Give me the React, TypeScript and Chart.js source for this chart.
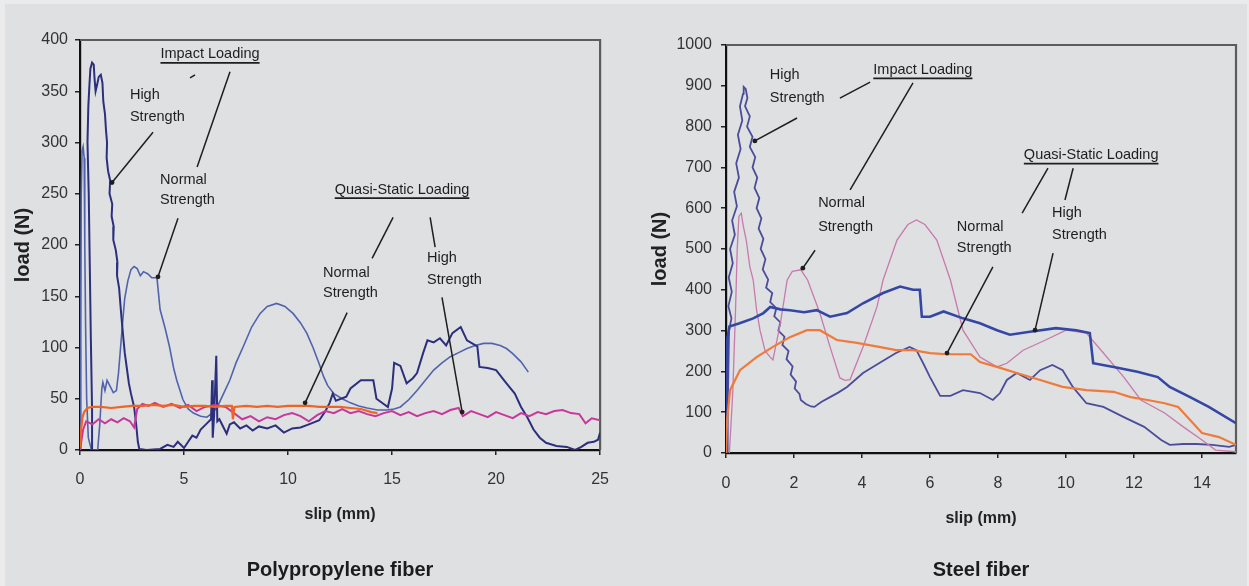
import { useEffect, useRef } from "react";
import { Chart, registerables } from "chart.js";

Chart.register(...registerables);

type Pt = [number, number];

// ---------- Polypropylene fiber: [slip (mm), load (N)] ----------
const ppImpactHigh: Pt[] = [
  [0.62, 0], [0.58, 40], [0.52, 110], [0.47, 180], [0.42, 250], [0.36, 300], [0.4, 335], [0.45, 355],
  [0.5, 372], [0.58, 378], [0.66, 376], [0.7, 362], [0.75, 350], [0.82, 356], [0.9, 364], [1.0, 366],
  [1.08, 358], [1.12, 340], [1.2, 328], [1.25, 312], [1.3, 300], [1.28, 285], [1.35, 272], [1.45, 263],
  [1.42, 250], [1.55, 240], [1.52, 228], [1.62, 218], [1.6, 205], [1.72, 195], [1.8, 183], [1.78, 170],
  [1.88, 158], [1.95, 140], [2.0, 128], [2.08, 110], [2.15, 95], [2.25, 80], [2.35, 65], [2.45, 55],
  [2.6, 42], [2.7, 25], [2.78, 8], [2.85, 1], [3.2, 0], [3.85, 1], [4.2, 5], [4.5, 3], [4.7, 8], [5.0, 2],
  [5.2, 8], [5.4, 14], [5.6, 12], [5.8, 20], [6.1, 26], [6.3, 30], [6.35, 68], [6.38, 12], [6.45, 35],
  [6.55, 92], [6.6, 28], [6.7, 30], [6.9, 22], [7.05, 16], [7.2, 25], [7.4, 27], [7.7, 21], [8.0, 24],
  [8.3, 19], [8.6, 23], [9.0, 21], [9.4, 24], [9.8, 17], [10.2, 21], [10.6, 22], [11.0, 25], [11.5, 29],
  [11.8, 38], [12.0, 46], [12.15, 55], [12.3, 48], [12.8, 52], [13.0, 60], [13.5, 68], [14.1, 68],
  [14.25, 50], [14.8, 42], [15.0, 60], [15.1, 85], [15.4, 82], [15.7, 65], [16.0, 70], [16.2, 75],
  [16.5, 95], [16.7, 107], [17.0, 105], [17.3, 109], [17.6, 102], [17.9, 114], [18.3, 120], [18.6, 107],
  [19.1, 101], [19.2, 81], [19.6, 80], [20.0, 78], [20.5, 65], [20.9, 55], [21.2, 42], [21.5, 32],
  [21.8, 20], [22.1, 12], [22.4, 7], [22.9, 4], [23.4, 3], [23.8, 0], [24.1, 3], [24.4, 7], [24.7, 8],
  [24.9, 10], [25, 17],
];

const ppImpactNormal: Pt[] = [
  [0, 0], [0.03, 120], [0.06, 250], [0.1, 292], [0.15, 296], [0.2, 285], [0.23, 200], [0.27, 120],
  [0.32, 50], [0.4, 12], [0.55, 0], [0.85, 0], [0.95, 25], [1.05, 60], [1.1, 66], [1.2, 58], [1.3, 68],
  [1.45, 62], [1.6, 56], [1.75, 58], [1.85, 75], [1.95, 100], [2.05, 125], [2.15, 148], [2.3, 165],
  [2.45, 176], [2.6, 179], [2.75, 177], [2.9, 170], [3.05, 174], [3.25, 172], [3.45, 168], [3.7, 168],
  [3.85, 137], [4.1, 118], [4.3, 101], [4.5, 80], [4.65, 68], [4.95, 49], [5.2, 40], [5.45, 36],
  [5.8, 33], [6.1, 32], [6.35, 36], [6.6, 42], [6.9, 55], [7.2, 68], [7.5, 85], [7.85, 101], [8.25, 120],
  [8.65, 133], [9.0, 140], [9.45, 143], [9.85, 140], [10.25, 133], [10.6, 124], [10.9, 114], [11.2, 100],
  [11.5, 84], [11.7, 72], [11.9, 63], [12.2, 55], [12.6, 50], [13.0, 46], [13.4, 43], [13.8, 41],
  [14.3, 39], [14.75, 39], [15.1, 40], [15.4, 42], [15.8, 49], [16.2, 58], [16.6, 68], [17.0, 78],
  [17.4, 85], [17.8, 91], [18.2, 95], [18.6, 99], [19.0, 102], [19.4, 104], [19.8, 104], [20.2, 102],
  [20.5, 99], [20.8, 94], [21.2, 86], [21.55, 76],
];

const ppQuasiNormal: Pt[] = [
  [0, 3], [0.05, 20], [0.12, 32], [0.2, 37], [0.35, 41], [0.6, 42], [1.0, 42], [1.5, 41], [2.0, 42],
  [2.5, 43], [3.0, 43], [3.5, 44], [4.0, 43], [4.5, 44], [5.0, 42], [5.5, 43], [6.0, 43], [6.5, 42],
  [7.0, 43], [7.3, 43], [7.35, 30], [7.42, 42], [8.0, 43], [8.5, 42], [9.0, 43], [9.5, 42], [10.0, 43],
  [10.5, 43], [11.0, 43], [11.5, 42], [12.0, 42], [12.5, 42], [13.0, 41], [13.5, 40], [14.0, 37], [14.3, 36],
];

const ppQuasiHigh: Pt[] = [
  [0, 0], [0.15, 20], [0.3, 28], [0.6, 25], [0.9, 30], [1.2, 26], [1.5, 30], [1.8, 27], [2.1, 31],
  [2.4, 28], [2.6, 22], [2.75, 40], [3.0, 45], [3.3, 43], [3.6, 46], [4.0, 42], [4.4, 45], [4.8, 41],
  [5.2, 44], [5.6, 38], [6.0, 42], [6.5, 44], [7.0, 42], [7.4, 36], [7.8, 30], [8.2, 33], [8.6, 28],
  [9.0, 32], [9.4, 30], [9.8, 34], [10.2, 36], [10.6, 33], [11.0, 28], [11.4, 34], [11.8, 38], [12.2, 36],
  [12.6, 40], [13.0, 36], [13.4, 38], [13.8, 35], [14.2, 33], [14.6, 36], [15.0, 38], [15.4, 34],
  [15.8, 37], [16.2, 33], [16.6, 36], [17.0, 38], [17.4, 35], [17.8, 39], [18.2, 41], [18.4, 33],
  [18.8, 38], [19.2, 35], [19.6, 32], [20.0, 37], [20.4, 34], [20.8, 31], [21.2, 36], [21.6, 33],
  [22.0, 37], [22.4, 35], [22.8, 38], [23.2, 39], [23.6, 36], [24.0, 35], [24.3, 26], [24.6, 31], [25, 29],
];

// ---------- Steel fiber: [slip (mm), load (N)] ----------
const stImpactHigh: Pt[] = [
  [0.03, 0], [0.05, 100], [0.07, 200], [0.09, 300], [0.16, 330], [0.07, 360], [0.17, 395], [0.08, 430],
  [0.2, 465], [0.12, 500], [0.26, 535], [0.18, 570], [0.32, 605], [0.24, 640], [0.38, 675], [0.3, 710],
  [0.43, 745], [0.35, 780], [0.48, 815], [0.41, 850], [0.5, 880], [0.52, 897], [0.58, 892], [0.63, 870],
  [0.56, 850], [0.7, 825], [0.62, 800], [0.78, 775], [0.7, 750], [0.86, 725], [0.78, 700], [0.92, 675],
  [0.84, 650], [0.98, 625], [0.9, 600], [1.04, 575], [0.96, 550], [1.1, 525], [1.02, 500], [1.16, 475],
  [1.08, 450], [1.24, 425], [1.18, 405], [1.36, 392], [1.3, 370], [1.48, 355], [1.42, 335], [1.6, 320],
  [1.54, 300], [1.72, 285], [1.66, 265], [1.84, 250], [1.78, 230], [1.96, 212], [1.9, 192], [2.06, 175],
  [2.02, 158], [2.16, 145], [2.2, 130], [2.35, 120], [2.5, 114], [2.6, 113], [2.8, 125], [3.06, 137],
  [3.3, 148], [3.56, 162], [4.03, 196], [4.5, 220], [5.0, 245], [5.4, 260], [5.6, 252], [5.8, 220],
  [6.0, 186], [6.3, 140], [6.6, 140], [6.97, 154], [7.47, 147], [7.85, 130], [8.06, 147], [8.26, 179],
  [8.55, 196], [8.94, 179], [9.24, 203], [9.6, 216], [9.9, 203], [10.2, 162], [10.6, 122], [11.1, 113],
  [11.7, 88], [12.3, 64], [12.8, 32], [13.05, 20], [13.45, 22], [13.85, 22], [14.3, 20], [14.8, 15], [15, 20],
];

const stImpactNormal: Pt[] = [
  [0.1, 0], [0.2, 150], [0.28, 350], [0.33, 500], [0.38, 580], [0.45, 588], [0.5, 560], [0.6, 520],
  [0.7, 457], [0.8, 424], [0.9, 350], [1.0, 301], [1.15, 250], [1.3, 235], [1.38, 228], [1.6, 318],
  [1.8, 424], [1.95, 445], [2.2, 449], [2.4, 424], [2.76, 343], [3.06, 260], [3.35, 184], [3.5, 178],
  [3.65, 180], [4.03, 260], [4.44, 358], [4.62, 424], [5.03, 522], [5.35, 560], [5.6, 571], [5.85, 560],
  [6.2, 522], [6.6, 424], [6.97, 301], [7.47, 235], [7.97, 211], [8.26, 220], [8.74, 252], [9.4, 277],
  [10.0, 301], [10.6, 294], [11.1, 245], [11.7, 186], [12.2, 130], [12.9, 98], [13.45, 64], [14.0, 32],
  [14.4, 7], [15, 3],
];

const stQuasiHigh: Pt[] = [
  [0, 0], [0.02, 150], [0.04, 280], [0.1, 310], [0.4, 318], [0.8, 330], [1.1, 343], [1.3, 358],
  [1.6, 352], [1.88, 350], [2.3, 345], [2.67, 350], [3.06, 334], [3.56, 343], [4.03, 367], [4.62, 392],
  [5.12, 408], [5.5, 400], [5.7, 400], [5.76, 334], [6.0, 334], [6.4, 347], [6.97, 330], [7.47, 318],
  [7.97, 301], [8.35, 290], [8.94, 297], [9.7, 306], [10.3, 301], [10.7, 294], [10.8, 220], [11.4, 211],
  [12.1, 199], [12.7, 186], [13.05, 162], [13.65, 137], [14.2, 113], [15, 73],
];

const stQuasiNormal: Pt[] = [
  [0, 0], [0.03, 80], [0.12, 154], [0.41, 203], [0.9, 235], [1.38, 260], [1.88, 284], [2.38, 301],
  [2.76, 301], [3.26, 277], [3.85, 270], [4.5, 260], [5.0, 252], [5.5, 252], [6.0, 245], [6.5, 242],
  [7.2, 242], [7.47, 223], [7.97, 211], [8.55, 196], [9.24, 179], [9.9, 162], [10.6, 154], [11.4, 150],
  [11.9, 137], [12.4, 130], [12.9, 122], [13.3, 113], [13.65, 81], [14.0, 49], [14.5, 39], [15, 20],
];

// ---------- Axis ticks ----------
const ppSlipTicks = [0, 5, 10, 15, 20, 25];
const ppLoadTicks = [0, 50, 100, 150, 200, 250, 300, 350, 400];
const stSlipTicks = [0, 2, 4, 6, 8, 10, 12, 14];
const stLoadTicks = [0, 100, 200, 300, 400, 500, 600, 700, 800, 900, 1000];

// ---------- Callouts (placed in data units) ----------
type Note =
  | { kind: "text"; x: number; y: number; text: string; align?: CanvasTextAlign; underline?: boolean }
  | { kind: "line"; x1: number; y1: number; x2: number; y2: number; dot?: boolean };

const ppNotes: Note[] = [
  { kind: "text", x: 6.25, y: 386, text: "Impact Loading", align: "center", underline: true },
  { kind: "line", x1: 5.29, y1: 363, x2: 5.53, y2: 366 },
  { kind: "line", x1: 7.21, y1: 369, x2: 5.63, y2: 276 },
  { kind: "text", x: 2.4, y: 346, text: "High" },
  { kind: "text", x: 2.4, y: 325, text: "Strength" },
  { kind: "line", x1: 3.51, y1: 310, x2: 1.54, y2: 261, dot: true },
  { kind: "text", x: 3.85, y: 263, text: "Normal" },
  { kind: "text", x: 3.85, y: 244, text: "Strength" },
  { kind: "line", x1: 4.71, y1: 226, x2: 3.75, y2: 169, dot: true },
  { kind: "text", x: 15.48, y: 254, text: "Quasi-Static Loading", align: "center", underline: true },
  { kind: "line", x1: 15.05, y1: 227, x2: 14.04, y2: 187 },
  { kind: "line", x1: 16.83, y1: 227, x2: 17.07, y2: 198 },
  { kind: "text", x: 11.68, y: 173, text: "Normal" },
  { kind: "text", x: 11.68, y: 153, text: "Strength" },
  { kind: "text", x: 16.68, y: 187, text: "High" },
  { kind: "text", x: 16.68, y: 166, text: "Strength" },
  { kind: "line", x1: 12.84, y1: 134, x2: 10.82, y2: 46, dot: true },
  { kind: "line", x1: 17.4, y1: 149, x2: 18.37, y2: 37, dot: true },
];

const stNotes: Note[] = [
  { kind: "text", x: 1.29, y: 926, text: "High" },
  { kind: "text", x: 1.29, y: 870, text: "Strength" },
  { kind: "line", x1: 2.09, y1: 821, x2: 0.85, y2: 765, dot: true },
  { kind: "text", x: 5.79, y: 939, text: "Impact Loading", align: "center", underline: true },
  { kind: "line", x1: 4.24, y1: 909, x2: 3.35, y2: 870 },
  { kind: "line", x1: 5.5, y1: 907, x2: 3.65, y2: 645 },
  { kind: "text", x: 2.71, y: 613, text: "Normal" },
  { kind: "text", x: 2.71, y: 554, text: "Strength" },
  { kind: "line", x1: 2.62, y1: 497, x2: 2.26, y2: 453, dot: true },
  { kind: "text", x: 10.74, y: 730, text: "Quasi-Static Loading", align: "center", underline: true },
  { kind: "line", x1: 9.47, y1: 698, x2: 8.71, y2: 588 },
  { kind: "line", x1: 10.21, y1: 698, x2: 9.97, y2: 620 },
  { kind: "text", x: 6.79, y: 554, text: "Normal" },
  { kind: "text", x: 6.79, y: 502, text: "Strength" },
  { kind: "text", x: 9.59, y: 588, text: "High" },
  { kind: "text", x: 9.59, y: 534, text: "Strength" },
  { kind: "line", x1: 7.85, y1: 456, x2: 6.5, y2: 245, dot: true },
  { kind: "line", x1: 9.62, y1: 490, x2: 9.09, y2: 301, dot: true },
];

const FONT = '"Liberation Sans", Arial, Helvetica, sans-serif';
Chart.defaults.font.family = FONT;

function notesPlugin(notes: Note[]) {
  return {
    id: "notes",
    afterDatasetsDraw(chart: any) {
      const { ctx } = chart;
      const xs = chart.scales.x;
      const ys = chart.scales.y;
      ctx.save();
      ctx.fillStyle = "#1e1e1e";
      ctx.strokeStyle = "#1e1e1e";
      ctx.font = `14.5px ${FONT}`;
      ctx.textBaseline = "middle";
      for (const n of notes) {
        if (n.kind === "text") {
          const px = xs.getPixelForValue(n.x);
          const py = ys.getPixelForValue(n.y);
          const align = n.align ?? "left";
          ctx.textAlign = align;
          ctx.fillText(n.text, px, py);
          if (n.underline) {
            const w = ctx.measureText(n.text).width;
            const x0 = align === "center" ? px - w / 2 : px;
            ctx.lineWidth = 1.6;
            ctx.beginPath();
            ctx.moveTo(x0, py + 8.5);
            ctx.lineTo(x0 + w, py + 8.5);
            ctx.stroke();
          }
        } else {
          const ax = xs.getPixelForValue(n.x1);
          const ay = ys.getPixelForValue(n.y1);
          const bx = xs.getPixelForValue(n.x2);
          const by = ys.getPixelForValue(n.y2);
          ctx.lineWidth = 1.5;
          ctx.beginPath();
          ctx.moveTo(ax, ay);
          ctx.lineTo(bx, by);
          ctx.stroke();
          if (n.dot) {
            ctx.beginPath();
            ctx.arc(bx, by, 2.4, 0, Math.PI * 2);
            ctx.fill();
          }
        }
      }
      ctx.restore();
    },
  };
}

// Top and right edges of the plot box
const framePlugin = {
  id: "frame",
  beforeDatasetsDraw(chart: any) {
    const { ctx, chartArea: a } = chart;
    ctx.save();
    ctx.strokeStyle = "#5c5c5c";
    ctx.lineWidth = 2.2;
    ctx.beginPath();
    ctx.moveTo(a.left, a.top);
    ctx.lineTo(a.right, a.top);
    ctx.lineTo(a.right, a.bottom);
    ctx.stroke();
    ctx.restore();
  },
};

type Series = { data: Pt[]; color: string; width: number };

type PanelSpec = {
  series: Series[];
  xMax: number;
  yMax: number;
  xTicks: number[];
  yTicks: number[];
  title: string;
  notes: Note[];
  padTop: number;
  padRight: number;
  yWidth: number;
  xHeight: number;
  yTitlePad: number;
  xTitlePad: number;
  yTickPad: number;
  xTickPad: number;
};

function makeChart(canvas: HTMLCanvasElement, s: PanelSpec) {
  return new Chart(canvas, {
    type: "scatter",
    data: {
      datasets: s.series.map((d) => ({
        data: d.data.map(([x, y]) => ({ x, y })),
        showLine: true,
        borderColor: d.color,
        borderWidth: d.width,
        pointRadius: 0,
        tension: 0,
        fill: false,
      })),
    },
    options: {
      responsive: false,
      animation: false,
      devicePixelRatio: 1,
      layout: { padding: { left: 0, right: s.padRight, top: s.padTop, bottom: 0 } },
      plugins: {
        legend: { display: false },
        tooltip: { enabled: false },
        title: {
          display: true,
          text: s.title,
          position: "bottom",
          fullSize: false,
          color: "#1c1c1c",
          font: { size: 20, weight: "bold", family: FONT },
          padding: { top: 4, bottom: 4 },
        },
      },
      scales: {
        x: {
          type: "linear",
          min: 0,
          max: s.xMax,
          afterBuildTicks: (sc: any) => {
            sc.ticks = s.xTicks.map((v) => ({ value: v }));
          },
          afterFit: (sc: any) => {
            sc.height = s.xHeight;
          },
          ticks: {
            color: "#333",
            font: { size: 16 },
            padding: s.xTickPad,
            maxRotation: 0,
            callback: (v: any) => String(v),
          },
          grid: { drawOnChartArea: false, drawTicks: true, tickLength: 5, color: "#222", lineWidth: 1.5 },
          border: { color: "#111", width: 2.2 },
          title: {
            display: true,
            text: "slip (mm)",
            color: "#222",
            font: { size: 16, weight: "bold", family: FONT },
            padding: { top: 0, bottom: s.xTitlePad },
          },
        },
        y: {
          type: "linear",
          min: 0,
          max: s.yMax,
          afterBuildTicks: (sc: any) => {
            sc.ticks = s.yTicks.map((v) => ({ value: v }));
          },
          afterFit: (sc: any) => {
            sc.width = s.yWidth;
          },
          ticks: { color: "#333", font: { size: 16 }, padding: s.yTickPad, callback: (v: any) => String(v) },
          grid: { drawOnChartArea: false, drawTicks: true, tickLength: 5, color: "#222", lineWidth: 1.5 },
          border: { color: "#111", width: 2.2 },
          title: {
            display: true,
            text: "load (N)",
            color: "#222",
            font: { size: 20, weight: "bold", family: FONT },
            padding: { top: s.yTitlePad, bottom: 0 },
          },
        },
      },
    },
    plugins: [framePlugin, notesPlugin(s.notes)],
  } as any);
}

export default function App() {
  const leftRef = useRef<HTMLCanvasElement>(null);
  const rightRef = useRef<HTMLCanvasElement>(null);

  useEffect(() => {
    const left = makeChart(leftRef.current!, {
      series: [
        { data: ppQuasiNormal, color: "#f06423", width: 2.2 },
        { data: ppQuasiHigh, color: "#c8389a", width: 2 },
        { data: ppImpactHigh, color: "#2c2f7c", width: 2 },
        { data: ppImpactNormal, color: "#5263ad", width: 1.6 },
      ],
      xMax: 25,
      yMax: 400,
      xTicks: ppSlipTicks,
      yTicks: ppLoadTicks,
      title: "Polypropylene fiber",
      notes: ppNotes,
      padTop: 40,
      padRight: 0,
      yWidth: 80,
      xHeight: 104,
      yTitlePad: 11,
      xTitlePad: 30,
      yTickPad: 7,
      xTickPad: 15,
    });
    const right = makeChart(rightRef.current!, {
      series: [
        { data: stQuasiNormal, color: "#ef7a3a", width: 2.2 },
        { data: stQuasiHigh, color: "#3447a5", width: 2.6 },
        { data: stImpactNormal, color: "#c77aad", width: 1.3 },
        { data: stImpactHigh, color: "#4b4d98", width: 1.8 },
      ],
      xMax: 15,
      yMax: 1000,
      xTicks: stSlipTicks,
      yTicks: stLoadTicks,
      title: "Steel fiber",
      notes: stNotes,
      padTop: 45,
      padRight: 13,
      yWidth: 106,
      xHeight: 101,
      yTitlePad: 28,
      xTitlePad: 26,
      yTickPad: 9,
      xTickPad: 16,
    });
    return () => {
      left.destroy();
      right.destroy();
    };
  }, []);

  return (
    <div
      style={{
        position: "fixed",
        left: 0,
        top: 0,
        width: 1249,
        height: 586,
        background: "#ebebeb",
        overflow: "hidden",
      }}
    >
      <div
        style={{
          position: "absolute",
          left: 5,
          top: 4,
          width: 1242,
          height: 582,
          background: "#dfe0e2",
        }}
      />
      <canvas ref={leftRef} width={624} height={586} style={{ position: "absolute", left: 0, top: 0 }} />
      <canvas ref={rightRef} width={629} height={586} style={{ position: "absolute", left: 620, top: 0 }} />
    </div>
  );
}
